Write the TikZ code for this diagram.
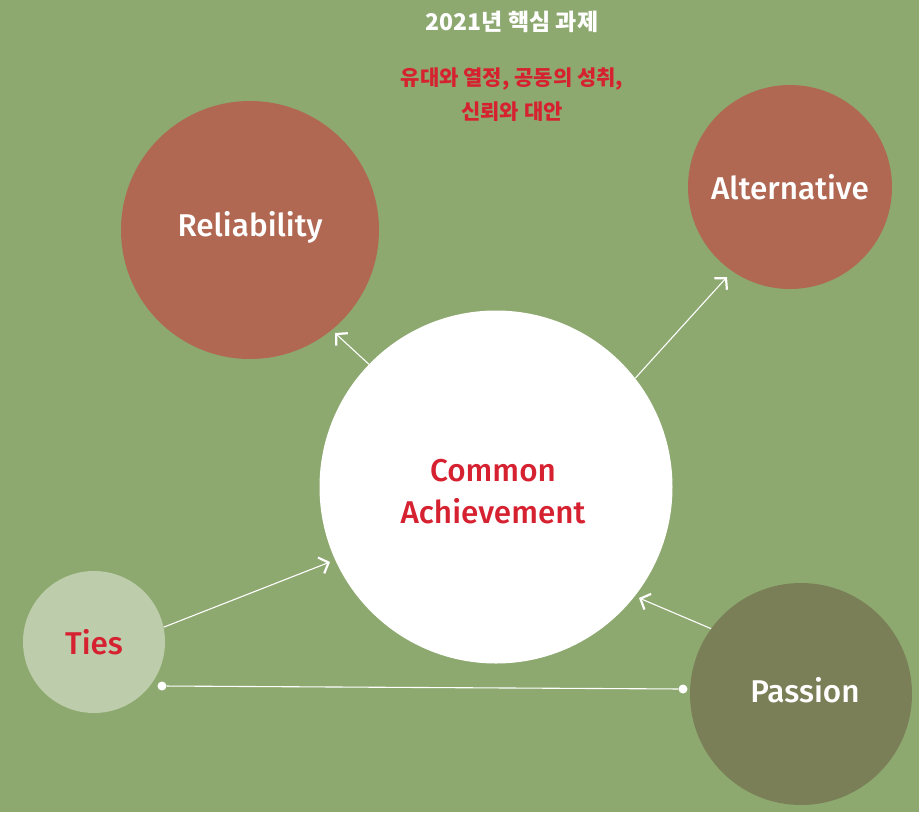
\documentclass[tikz,border=0pt]{standalone}
\usepackage{fontspec}
\setmainfont{Fira Sans}[BoldFont={Fira Sans Medium}]
\newfontfamily\kr{Noto Sans CJK KR}
\usetikzlibrary{arrows.meta}
\definecolor{bg}{HTML}{8DA970}
\definecolor{brick}{HTML}{B06853}
\definecolor{pale}{HTML}{BDCDAB}
\definecolor{olive}{HTML}{7A7F57}
\definecolor{txtred}{HTML}{D62130}
\tikzset{
  ball/.style={circle, inner sep=0pt, draw=none},
  lbl/.style={font=\fontsize{31.5}{42}\selectfont\bfseries, align=center},
  conn/.style={draw=white, line width=1.1pt, -{Straight Barb[length=8pt,width=17pt,line width=2.2pt]}},
  dotend/.style={circle, fill=white, inner sep=0pt, minimum size=9pt}
}
\begin{document}
\begin{tikzpicture}[x=1pt,y=-1pt]
\fill[bg] (0,0) rectangle (919,812);
\useasboundingbox (0,0) rectangle (919,812);
\node[ball, fill=brick, minimum size=258pt] (rel) at (250,230) {};
\node[ball, fill=brick, minimum size=204pt] (alt) at (790,187) {};
\node[ball, fill=white, minimum size=353pt] (com) at (496,487) {};
\node[ball, fill=pale, minimum size=142pt] (ties) at (94,642) {};
\node[ball, fill=olive, minimum size=222pt] (pas) at (801,694) {};
\node[lbl, text=white] (relT) at (250,227) {Reliability};
\node[lbl, text=white] (altT) at (790,187) {Alternative};
\node[lbl, text=txtred] (comT) at (493,492) {Common\\Achievement};
\node[lbl, text=txtred] (tiesT) at (94,642) {Ties};
\node[lbl, text=white] (pasT) at (805,690) {Passion};
\node[text=white, font=\kr\fontsize{23}{26}\selectfont\bfseries] (title) at (512,22) {2021년 핵심 과제};
\node[text=txtred, font=\kr\fontsize{21}{34}\selectfont\bfseries, align=center] (sub) at (512,95) {유대와 열정, 공동의 성취,\\신뢰와 대안};
\coordinate (relTip) at (335,333);
\coordinate (altTip) at (727,277);
\coordinate (comTipA) at (330,562);
\coordinate (comTipB) at (639,598);
\draw[conn] (com.136) -- (relTip);
\draw[conn] (com.38) -- (altTip);
\draw[conn] (ties.12) -- (comTipA);
\draw[conn] (pas.144) -- (comTipB);
\node[dotend] (d1) at (162,686) {};
\node[dotend] (d2) at (683,689) {};
\draw[white, line width=1.1pt] (d1) -- (d2);
\end{tikzpicture}
\end{document}
